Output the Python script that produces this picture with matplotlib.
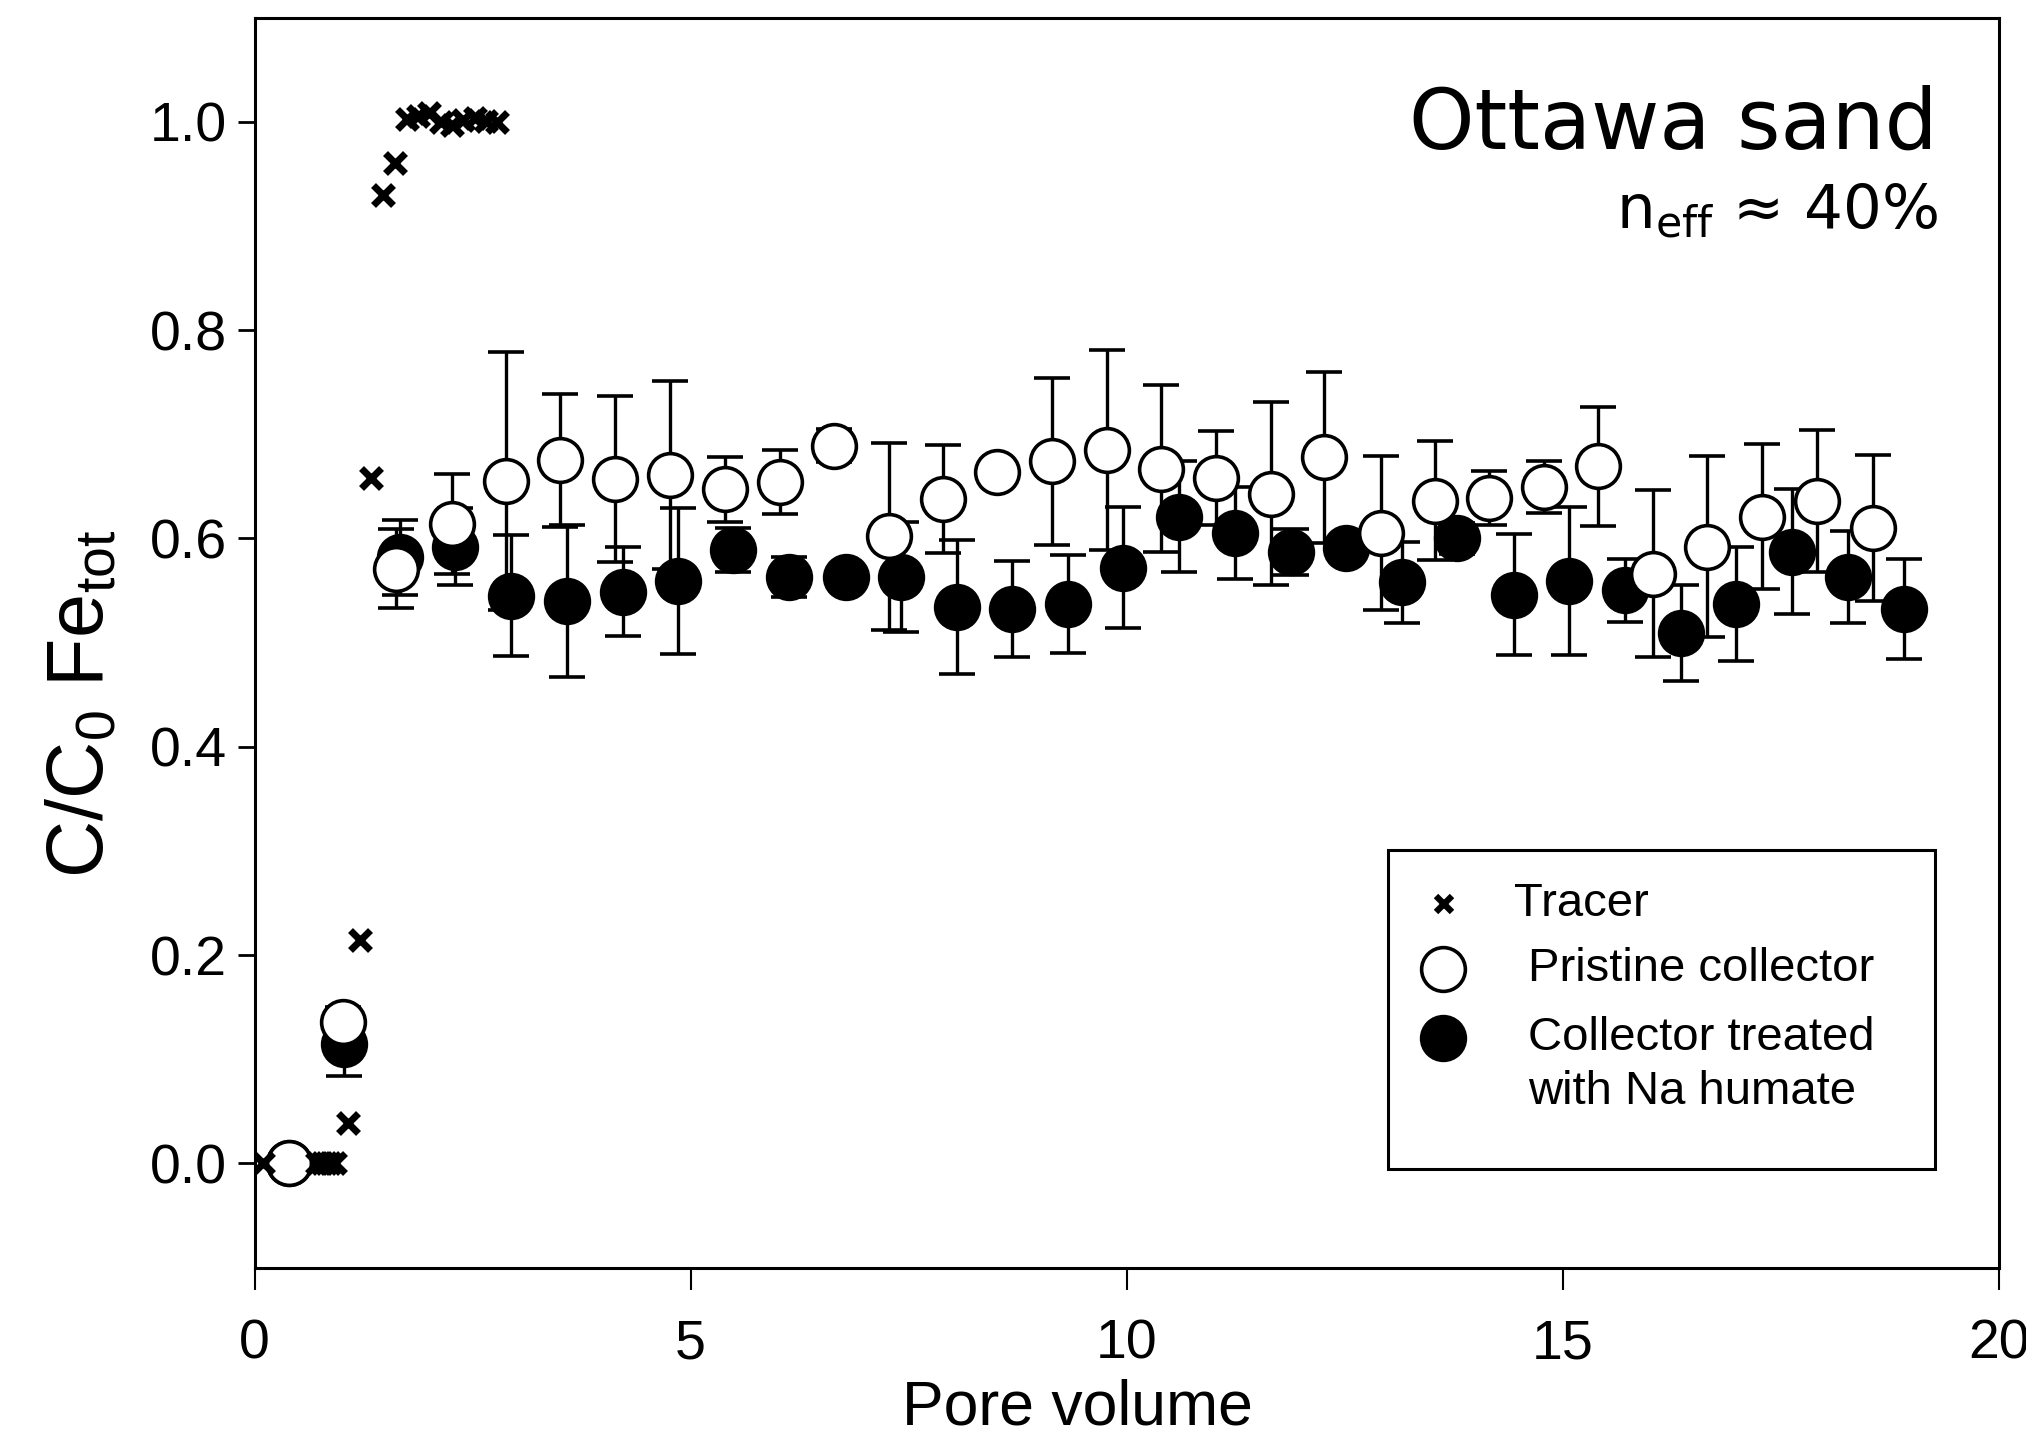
import matplotlib
matplotlib.use("Agg")
import matplotlib.pyplot as plt
from matplotlib.patches import Rectangle

# ---------------- data ----------------
tracer_x = [0.10, 0.72, 0.77, 0.82, 0.87, 0.92, 1.07, 1.21, 1.33, 1.47, 1.61,
            1.745, 1.875, 2.005, 2.135, 2.265, 2.395, 2.525, 2.655, 2.785]
tracer_y = [0.0, 0.0, 0.0, 0.0, 0.0, 0.0, 0.039, 0.214, 0.658, 0.930, 0.960,
            1.003, 1.005, 1.008, 1.000, 0.997, 1.002, 1.004, 1.001, 1.000]

pristine_x = [0.39, 1.01, 1.62, 2.26, 2.88, 3.50, 4.13, 4.76, 5.39, 6.02,
              6.64, 7.27, 7.89, 8.51, 9.14, 9.77, 10.39, 11.02, 11.65, 12.26,
              12.91, 13.53, 14.15, 14.78, 15.40, 16.03, 16.65, 17.28, 17.91, 18.55]
pristine_y = [0.000, 0.136, 0.571, 0.614, 0.655, 0.675, 0.657, 0.661, 0.647, 0.654,
              0.689, 0.602, 0.638, 0.664, 0.674, 0.685, 0.667, 0.658, 0.643, 0.678,
              0.605, 0.636, 0.639, 0.649, 0.669, 0.566, 0.592, 0.621, 0.636, 0.610]
pristine_err = [0.000, 0.014, 0.038, 0.048, 0.124, 0.064, 0.080, 0.090, 0.031, 0.031,
                0.016, 0.090, 0.052, 0.005, 0.080, 0.096, 0.080, 0.045, 0.088, 0.082,
                0.074, 0.057, 0.026, 0.025, 0.057, 0.080, 0.087, 0.070, 0.068, 0.070]

humate_x = [0.39, 1.03, 1.67, 2.30, 2.94, 3.58, 4.22, 4.86, 5.49, 6.13,
            6.78, 7.41, 8.05, 8.69, 9.33, 9.96, 10.60, 11.24, 11.88, 12.51,
            13.16, 13.79, 14.44, 15.07, 15.71, 16.35, 16.99, 17.63, 18.27, 18.91]
humate_y = [0.000, 0.115, 0.582, 0.592, 0.545, 0.540, 0.549, 0.559, 0.589, 0.563,
            0.563, 0.563, 0.534, 0.532, 0.537, 0.572, 0.621, 0.605, 0.587, 0.591,
            0.558, 0.600, 0.546, 0.559, 0.550, 0.509, 0.537, 0.587, 0.563, 0.532]
humate_err = [0.000, 0.031, 0.036, 0.037, 0.058, 0.073, 0.043, 0.070, 0.021, 0.019,
              0.008, 0.053, 0.064, 0.046, 0.047, 0.058, 0.053, 0.044, 0.022, 0.010,
              0.039, 0.015, 0.058, 0.071, 0.030, 0.046, 0.055, 0.060, 0.044, 0.048]

x_ticks = [0, 5, 10, 15, 20]
y_ticks = [0.0, 0.2, 0.4, 0.6, 0.8, 1.0]

legend_labels = ["Tracer", "Pristine collector", "Collector treated", "with Na humate"]

# ---------------- figure ----------------
fig = plt.figure(figsize=(20.26, 14.37), dpi=100)
ax = fig.add_axes([0.12562, 0.11788, 0.86106, 0.86994])

MS = 31.5
EW = 2.6
CAP = 13
ELW = 2.4

ax.errorbar(humate_x, humate_y, yerr=humate_err, fmt='o', ms=MS,
            mfc='black', mec='black', mew=EW, ecolor='black', elinewidth=ELW,
            capsize=CAP, capthick=ELW, zorder=3)
ax.errorbar(pristine_x, pristine_y, yerr=pristine_err, fmt='o', ms=MS,
            mfc='white', mec='black', mew=EW, ecolor='black', elinewidth=ELW,
            capsize=CAP, capthick=ELW, zorder=4)
ax.plot(tracer_x, tracer_y, linestyle='none', marker='x', ms=14.5, mew=5,
        color='black', zorder=5)

ax.set_xlim(0, 20)
ax.set_ylim(-0.1, 1.1)
ax.set_xticks(x_ticks)
ax.set_xticklabels([str(v) for v in x_ticks])
ax.set_yticks(y_ticks)
ax.set_yticklabels([f"{v:.1f}" for v in y_ticks])

for s in ax.spines.values():
    s.set_linewidth(2.2)

TF = "Liberation Sans"
ax.tick_params(axis='y', direction='out', length=12, width=2, pad=8,
               labelsize=40)
ax.tick_params(axis='x', direction='out', length=16, width=1.5, pad=21,
               labelsize=40)
for lab in ax.get_xticklabels() + ax.get_yticklabels():
    lab.set_fontfamily(TF)

ax.set_xlabel("Pore volume", fontsize=45, fontfamily=TF)
ax.xaxis.set_label_coords(0.4715, -0.1123)
ax.xaxis.label.set_va('center')

ax.set_ylabel(r"C/C$_{\mathregular{0}}$ Fe$_{\mathregular{tot}}$", fontsize=57,
              fontfamily=TF)
ax.yaxis.set_label_coords(-0.0985, 0.451)
ax.yaxis.label.set_va('center')

# annotation
ax.text(0.965, 0.895, "Ottawa sand", transform=ax.transAxes, ha='right',
        va='baseline', fontsize=60, fontfamily="DejaVu Sans")
ax.text(0.965, 0.831, r"n$_{\mathregular{eff}}$ ≈ 40%", transform=ax.transAxes,
        ha='right', va='baseline', fontsize=44, fontfamily="DejaVu Sans")

# legend box (drawn manually to match framed layout)
ax.add_patch(Rectangle((0.6498, 0.0789), 0.9633 - 0.6498, 0.334 - 0.0789,
                       transform=ax.transAxes, fill=False, lw=2.2,
                       edgecolor='black', zorder=6))
ax.plot([0.682], [0.2905], transform=ax.transAxes, marker='x', ms=11, mew=4.5,
        color='black', clip_on=False, zorder=7)
ax.plot([0.681], [0.2389], transform=ax.transAxes, marker='o', ms=MS,
        mfc='white', mec='black', mew=EW, clip_on=False, zorder=7)
ax.plot([0.681], [0.184], transform=ax.transAxes, marker='o', ms=MS,
        mfc='black', mec='black', mew=EW, clip_on=False, zorder=7)
LF = 34
ax.text(0.722, 0.2905, legend_labels[0], transform=ax.transAxes, va='center',
        ha='left', fontsize=LF, fontfamily=TF)
ax.text(0.730, 0.2389, legend_labels[1], transform=ax.transAxes, va='center',
        ha='left', fontsize=LF, fontfamily=TF)
ax.text(0.730, 0.184, legend_labels[2], transform=ax.transAxes, va='center',
        ha='left', fontsize=LF, fontfamily=TF)
ax.text(0.730, 0.1407, legend_labels[3], transform=ax.transAxes, va='center',
        ha='left', fontsize=LF, fontfamily=TF)

fig.savefig("out.png", dpi=100, facecolor='white')
